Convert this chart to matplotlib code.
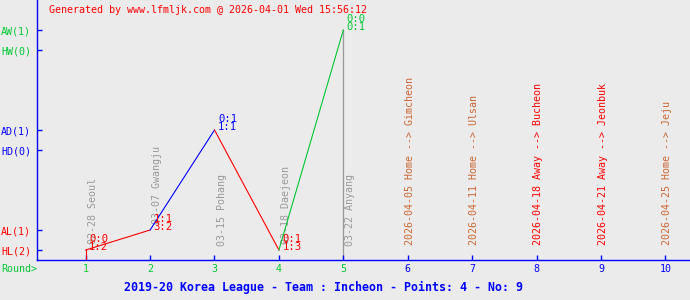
import matplotlib.pyplot as plt

# played rounds
rounds = [1, 2, 3, 4, 5]
results = ['HL', 'AL', 'AD', 'HL', 'AW']
half_scores = ['0:0', '1:1', '0:1', '0:1', '0:0']
full_scores = ['1:2', '3:2', '1:1', '1:3', '0:1']
venues = ['02-28 Seoul', '03-07 Gwangju', '03-15 Pohang', '03-18 Daejeon', '03-22 Anyang']

# upcoming fixtures
next_rounds = [6, 7, 8, 9, 10]
next_dates = ['2026-04-05', '2026-04-11', '2026-04-18', '2026-04-21', '2026-04-25']
next_sides = ['Home', 'Home', 'Away', 'Away', 'Home']
next_opponents = ['Gimcheon', 'Ulsan', 'Bucheon', 'Jeonbuk', 'Jeju']

# y-axis categories (count of each result)
level_names = ['HL', 'AL', 'HD', 'AD', 'HW', 'AW']
level_counts = [2, 1, 0, 1, 0, 1]

level_y = {'HL': 1, 'AL': 3, 'HD': 11, 'AD': 13, 'HW': 21, 'AW': 23}

BG = '#ebebeb'
RED = '#ff0000'
BLUE = '#0000ff'
GREEN = '#00c832'
GRAY = '#999999'
HOME = '#cc6633'
res_color = {'L': RED, 'D': BLUE, 'W': GREEN}

plt.rcParams['font.family'] = 'DejaVu Sans Mono'
plt.rcParams['font.size'] = 7.2

fig = plt.figure(figsize=(6.9, 3.0), dpi=100, facecolor=BG)
ax = fig.add_axes([37 / 690, 40 / 300, 653 / 690, 260 / 300])
ax.set_facecolor(BG)
ax.set_xlim(0.244, 10.383)
ax.set_ylim(0, 26)

for s in ['top', 'right']:
    ax.spines[s].set_visible(False)
for s in ['left', 'bottom']:
    ax.spines[s].set_color(BLUE)
    ax.spines[s].set_linewidth(1.0)

# current round marker
ax.plot([rounds[-1], rounds[-1]], [0, level_y[results[-1]]], color=GRAY, lw=0.9, zorder=1)

# result path, each segment coloured by the result it ends on
xs = [rounds[0]] + rounds
ys = [0] + [level_y[r] for r in results]
for i in range(len(rounds)):
    c = res_color[results[i][1]]
    ax.plot(xs[i:i + 2], ys[i:i + 2], color=c, lw=0.8, zorder=3)

# venue labels of played rounds
for r, res, v in zip(rounds, results, venues):
    y = level_y[res] + 0.6 if level_y[res] < 10 else 1.4
    ax.text(r + 0.11, y, v, rotation=90, ha='center', va='bottom', color=GRAY, zorder=2)

# score labels
for r, res, h, f in zip(rounds, results, half_scores, full_scores):
    ax.annotate(h + '\n' + f, xy=(r, level_y[res]), xytext=(2.5, -1.8),
                textcoords='offset points', ha='left', va='bottom',
                linespacing=0.85, color=res_color[res[1]], fontsize=7.6, zorder=4)

# upcoming fixtures
for r, d, s, o in zip(next_rounds, next_dates, next_sides, next_opponents):
    c = HOME if s == 'Home' else RED
    ax.text(r + 0.03, 1.5, f'{d} {s} --> {o}', rotation=90, ha='center', va='bottom', color=c)

# ticks
all_rounds = rounds + next_rounds
ax.set_xticks(all_rounds)
ax.set_xticklabels([str(r) for r in all_rounds])
for lbl, r in zip(ax.get_xticklabels(), all_rounds):
    lbl.set_color(GREEN if r in rounds else BLUE)
ax.tick_params(axis='x', direction='in', length=3.6, width=1, color=BLUE, pad=3)

ax.set_yticks([level_y[n] for n in level_names])
ax.set_yticklabels([f'{n}({c})' for n, c in zip(level_names, level_counts)], ha='left')
for lbl, n in zip(ax.get_yticklabels(), level_names):
    lbl.set_color(res_color[n[1]])
ax.tick_params(axis='y', direction='in', length=3.6, width=1, color=BLUE, pad=26)

fig.text(1 / 690, 1 - 269 / 300, 'Round>', color=GREEN, va='center', ha='left')
fig.text(49 / 690, 1 - 10 / 300, 'Generated by www.lfmljk.com @ 2026-04-01 Wed 15:56:12',
         color=RED, va='center', ha='left')
fig.text(324 / 690, 1 - 287 / 300, '2019-20 Korea League - Team : Incheon - Points: 4 - No: 9',
         color=BLUE, va='center', ha='center', fontsize=8.4, fontweight='bold')

fig.savefig('out.png', dpi=100, facecolor=BG)
